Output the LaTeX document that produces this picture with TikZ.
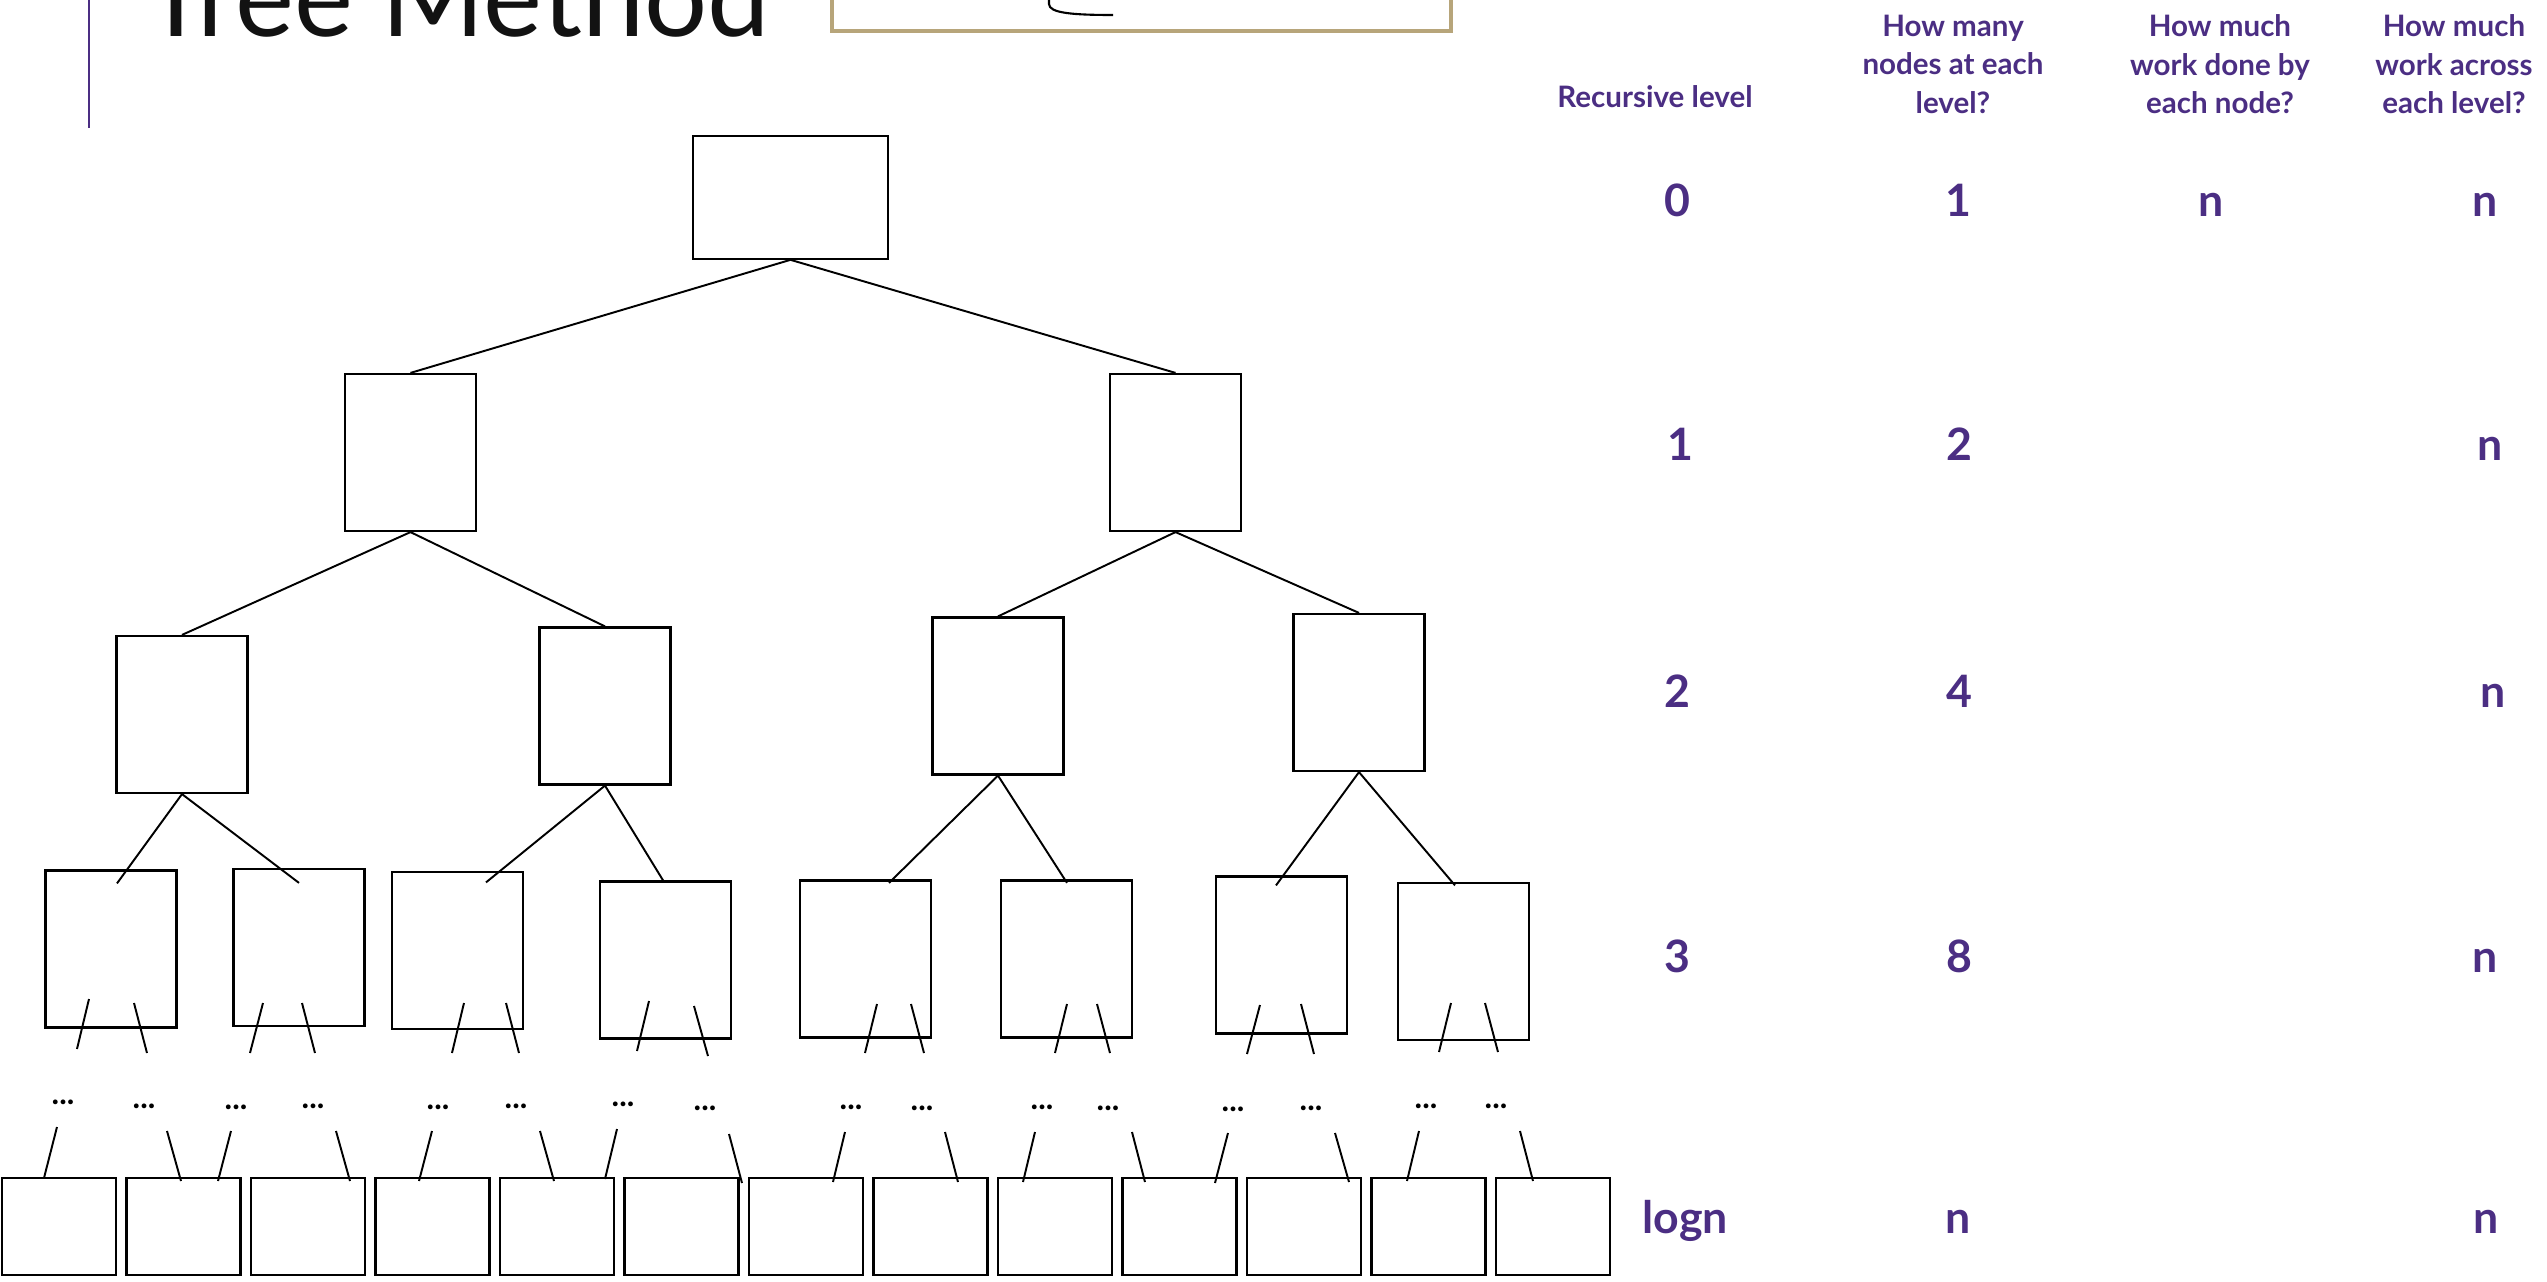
\documentclass[tikz,border=0pt]{standalone}
\usepackage{fontspec}
\setmainfont{Lato}
\usepackage{tikz}
\usetikzlibrary{calc}

\definecolor{uwpurple}{HTML}{4B2E83}
\definecolor{uwgold}{HTML}{B7A57A}

\begin{document}
\begin{tikzpicture}[
  x=0.01cm, y=-0.01cm,
  tbox/.style={draw, line width=0.6pt, inner sep=0pt, minimum width=1.31cm, minimum height=1.57cm},
  leaf/.style={draw, line width=0.6pt, inner sep=0pt, minimum width=1.14cm, minimum height=0.97cm},
  link/.style={line width=0.55pt},
  colhead/.style={text=uwpurple, font=\fontsize{8.4}{10.95}\selectfont\bfseries, align=center, inner sep=0pt},
  val/.style={text=uwpurple, font=\fontsize{12.7}{15}\selectfont\bfseries, anchor=base, inner sep=0pt},
  gap/.style={font=\fontsize{9}{10}\selectfont\bfseries, anchor=base, inner sep=0pt}
]
\useasboundingbox (0,0) rectangle (2547,1282);
\clip (0,0) rectangle (2547,1282);

% slide title, cut at the top
\node[anchor=base west, inner sep=0pt, font=\fontsize{31.7}{38}\selectfont, text=black!93] (title) at (143,37) {Tree Method};
\draw[uwpurple, line width=0.85pt] (89,0) -- (89,128);
\draw[uwgold, line width=0.9pt] (832,-20) rectangle (1451,31);
\draw[line width=0.6pt] (1049,-5) -- (1049,4) .. controls (1049,13) and (1072,15) .. (1113,15);

% Level 0
\node[tbox, minimum width=1.95cm, minimum height=1.225cm] (r) at (790.5,197.5) {};

% Level 1
\node[tbox] (a) at (410.5,452.5) {};
\node[tbox] (b) at (1175.5,452.5) {};

% Level 2
\node[tbox] (aa) at (182,714.5) {};
\node[tbox] (ab) at (605,706) {};
\node[tbox] (ba) at (998,696) {};
\node[tbox] (bb) at (1359,692.5) {};

% Level 3
\foreach \n/\x/\y in {1/111/949, 2/299/947.5, 3/457.5/950.5, 4/665.5/960,
                      5/865.5/959, 6/1066.5/959, 7/1281.5/955, 8/1463.5/961.5}
  \node[tbox] (c\n) at (\x,\y) {};

% base case row
\foreach \i in {0,...,12}
  \node[leaf] (l\i) at (59+124.5*\i,1226.5) {};

\draw[link] (r.south) -- (a.north);
\draw[link] (r.south) -- (b.north);
\draw[link] (a.south) -- (aa.north);
\draw[link] (a.south) -- (ab.north);
\draw[link] (b.south) -- (ba.north);
\draw[link] (b.south) -- (bb.north);

\draw[link] (aa.south) -- ($(c1.north)+(6,14)$);
\draw[link] (aa.south) -- ($(c2.north)+(0,15)$);
\draw[link] (ab.south) -- ($(c3.north)+(28.5,11.5)$);
\draw[link] (ab.south) -- ($(c4.north)+(-1.5,1.5)$);
\draw[link] (ba.south) -- ($(c5.north)+(23.5,3.5)$);
\draw[link] (ba.south) -- ($(c6.north)+(0.5,3.5)$);
\draw[link] (bb.south) -- ($(c7.north)+(-5.5,10)$);
\draw[link] (bb.south) -- ($(c8.north)+(-8.5,3.5)$);

% broken edges below level 3
\foreach \xa/\ya/\xb/\yb in {89/999/77/1049, 134/1003/147/1053, 263/1003/250/1053, 302/1003/315/1053,
                             464/1003/452/1053, 506/1003/519/1053, 649/1001/637/1051, 694/1006/708/1056,
                             877/1004/865/1053, 911/1004/924/1053, 1067/1004/1055/1053, 1097/1004/1110/1053,
                             1260/1005/1247/1054, 1301/1004/1314/1054, 1451/1003/1439/1052, 1485/1003/1498/1052}
  \draw[link] (\xa,\ya) -- (\xb,\yb);

\foreach \n/\x/\y in {1/63/1104, 2/144/1108, 3/236/1109, 4/313/1108, 5/438/1109, 6/516/1108,
                      7/623/1106, 8/705/1110, 9/851/1109, 10/922/1110, 11/1042/1109, 12/1108/1110,
                      13/1233/1111, 14/1311/1110, 15/1426/1108, 16/1496/1108}
  \node[gap] (d\n) at (\x,\y) {...};

\foreach \xa/\ya/\xb/\yb in {57/1127/44/1178, 167/1131/181/1181, 231/1131/218/1181, 336/1131/350/1181,
                             432/1131/419/1181, 540/1131/554/1181, 617/1129/605/1179, 729/1134/742/1183,
                             845/1132/833/1182, 945/1132/958/1182, 1035/1132/1023/1182, 1132/1132/1145/1182,
                             1228/1133/1215/1183, 1335/1133/1349/1182, 1419/1131/1407/1181, 1520/1131/1533/1181}
  \draw[link] (\xa,\ya) -- (\xb,\yb);

% table
\node[colhead, anchor=base] (hlev) at (1655,108) {Recursive level};
\node[colhead, anchor=north] (hcnt) at (1953,14) {How many\\nodes at each\\level?};
\node[colhead, anchor=north] (hper) at (2220,14) {How much\\work done by\\each node?};
\node[colhead, anchor=north] (hall) at (2454,14) {How much\\work across\\each level?};

\node[val] (v0a) at (1677,217) {0};
\node[val] (v0b) at (1958,217) {1};
\node[val] (v0c) at (2211,217) {n};
\node[val] (v0d) at (2485,217) {n};

\node[val] (v1a) at (1680,461) {1};
\node[val] (v1b) at (1959,461) {2};
\node[val] (v1d) at (2490,461) {n};

\node[val] (v2a) at (1677,707) {2};
\node[val] (v2b) at (1959,707) {4};
\node[val] (v2d) at (2493,707) {n};

\node[val] (v3a) at (1677,972) {3};
\node[val] (v3b) at (1959,972) {8};
\node[val] (v3d) at (2485,972) {n};

\node[val] (v4a) at (1685,1233) {logn};
\node[val] (v4b) at (1958,1233) {n};
\node[val] (v4d) at (2486,1233) {n};
\end{tikzpicture}
\end{document}
